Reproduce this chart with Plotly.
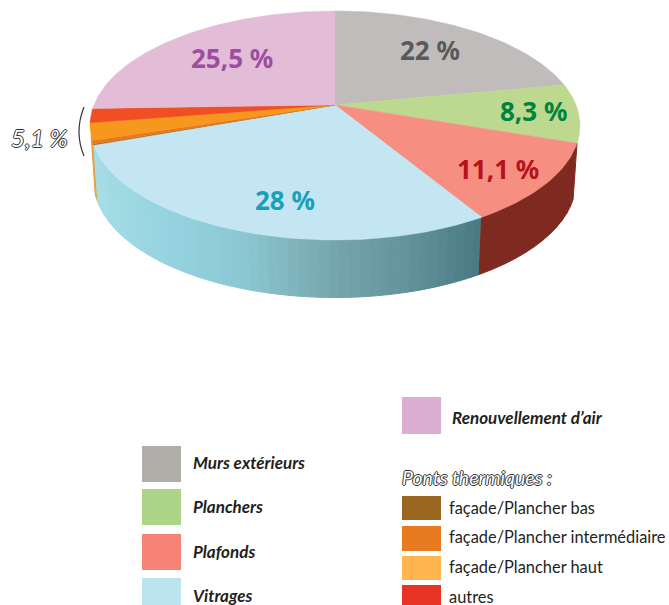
import math
import plotly.graph_objects as go

# --- data ---
categories = ["Murs extérieurs", "Planchers", "Plafonds", "Vitrages",
              "façade/Plancher bas", "façade/Plancher intermédiaire",
              "façade/Plancher haut", "autres", "Renouvellement d'air"]
values = [22.0, 8.3, 11.1, 28.0, 0.2, 0.5, 2.4, 2.0, 25.5]
top_colors = ["#bfbcbb", "#bcd98f", "#f68f82", "#c4e6f2", "#9a6a22", "#e8791f",
              "#f5981d", "#ef4f23", "#e3bcd8"]
pie_labels = ["22 %", "8,3 %", "11,1 %", "28 %", "25,5 %"]
pie_label_colors = ["#58595b", "#00843d", "#b5121b", "#1a9fb8", "#9b4f9e"]
legend_main = ["Murs extérieurs", "Planchers", "Plafonds", "Vitrages"]
legend_main_colors = ["#b1ada9", "#acd487", "#f78276", "#bce4ef"]
legend_pt = ["façade/Plancher bas", "façade/Plancher intermédiaire", "façade/Plancher haut", "autres"]
legend_pt_colors = ["#9a6722", "#e87a21", "#ffb651", "#e83425"]
group_total_label = "5,1 %"

# --- projection of the tilted disc ---
CX, CY, RX, RY = 335.0, 125.5, 245.0, 114.5
BX, BY, BRX, BRY = 335.0, 181.5, 241.0, 116.0
K = 0.18
total = sum(values)


def disc(frac):
    th = 2 * math.pi * frac
    x, y = math.sin(th), math.cos(th)
    w = 1 + K * y
    return x * math.sqrt(1 - K * K) / w, (y + K) / w


def top(frac):
    u, v = disc(frac)
    return CX + RX * u, CY - RY * v


def bottom(frac):
    u, v = disc(frac)
    return BX + BRX * u, BY - BRY * v


def hex_rgb(c):
    return tuple(int(c[i:i + 2], 16) for i in (1, 3, 5))


def ramp(x, stops):
    if x <= stops[0][0]:
        return stops[0][1]
    for (x0, c0), (x1, c1) in zip(stops, stops[1:]):
        if x <= x1:
            t = (x - x0) / (x1 - x0)
            a, b = hex_rgb(c0), hex_rgb(c1)
            return "rgb(%d,%d,%d)" % tuple(round(p + (q - p) * t) for p, q in zip(a, b))
    return stops[-1][1]


def poly(xs, ys, color):
    return go.Scatter(x=xs, y=ys, mode="lines", fill="toself", fillcolor=color,
                      line=dict(color=color, width=1), hoverinfo="skip", showlegend=False)


fig = go.Figure()

# cumulative bounds
bounds = [0.0]
for v in values:
    bounds.append(bounds[-1] + v / total)

# side wall: small orange edge, dark red wall, shaded blue wall
blue_stops = [(98, "#a6dce5"), (170, "#93d3df"), (240, "#8cc8d3"), (333, "#76a6ad"),
              (420, "#5f8f98"), (477, "#4a7a84")]


def wall(f0, f1, color_fn, n):
    for i in range(n):
        a = f0 + (f1 - f0) * i / n
        b = f0 + (f1 - f0) * (i + 1) / n
        ta, tb, ba, bb = top(a), top(b), bottom(a), bottom(b)
        col = color_fn((ta[0] + tb[0]) / 2)
        fig.add_trace(poly([ta[0], tb[0], bb[0], ba[0], ta[0]],
                           [ta[1], tb[1], bb[1], ba[1], ta[1]], col))


wall(bounds[4], bounds[4] + 0.012, lambda x: "#e8a040", 2)
wall(bounds[3], bounds[4], lambda x: ramp(x, blue_stops), 50)
wall(bounds[2], bounds[3], lambda x: "#7f2a20", 12)

# top face
for i, col in enumerate(top_colors):
    n = max(3, int(values[i] * 3))
    pts = [top(bounds[i] + (bounds[i + 1] - bounds[i]) * j / n) for j in range(n + 1)]
    apex = (CX, CY - RY * K)
    xs = [apex[0]] + [p[0] for p in pts] + [apex[0]]
    ys = [apex[1]] + [p[1] for p in pts] + [apex[1]]
    fig.add_trace(go.Scatter(x=xs, y=ys, mode="lines", fill="toself", fillcolor=col,
                             line=dict(color=col, width=0.5), hoverinfo="skip", showlegend=False))

ann = []


def text(x, y, s, size, color, family="Lato", bold=False, italic=False, anchor="left", shadow=None):
    f = dict(size=size, color=color, family=family,
             weight="bold" if bold else "normal", style="italic" if italic else "normal")
    if shadow:
        f["shadow"] = shadow
    ann.append(dict(x=x, y=y, xref="x", yref="y", text=s, showarrow=False, font=f,
                    xanchor=anchor, yanchor="middle", align=anchor))


# pie labels
label_pos = [(430, 50), (533, 111), (498, 169), (285, 200), (232, 58)]
for (x, y), s, c in zip(label_pos, pie_labels, pie_label_colors):
    text(x, y, s, 26, c, family="Noto Sans", bold=True, anchor="center")

OUTLINE = "1px 0 #333, -1px 0 #333, 0 1px #333, 0 -1px #333"
text(39, 137, group_total_label, 24, "#ffffff", italic=True, anchor="center", shadow=OUTLINE)

shapes = [dict(type="path", path="M 84 107 Q 74 132 84 156", xref="x", yref="y",
               line=dict(color="#333333", width=1.2))]


def swatch(x0, y0, x1, y1, c):
    shapes.append(dict(type="rect", x0=x0, x1=x1, y0=y0, y1=y1, xref="x", yref="y",
                       fillcolor=c, line=dict(width=0), layer="above"))


# legend, left column
for s, c, (y0, y1), ty in zip(legend_main, legend_main_colors,
                              [(446, 482), (489, 525), (534, 570), (578, 605)],
                              [462, 506, 551, 595]):
    swatch(142, y0, 181, y1, c)
    text(191, ty, s, 17, "#231f20", bold=True, italic=True)

# legend, right column
swatch(402, 397, 441, 434, "#dbaed2")
text(450, 417, categories[8].replace("'", "’"), 17, "#231f20", bold=True, italic=True)
text(400, 477, "Ponts thermiques :", 19.5, "#ffffff", italic=True, shadow=OUTLINE)
for s, c, (y0, y1), ty in zip(legend_pt, legend_pt_colors,
                              [(496, 520), (526, 551), (556, 580), (585, 605)],
                              [507, 536, 566, 596]):
    swatch(402, y0, 441, y1, c)
    text(447, ty, s, 16.4, "#231f20")

fig.update_layout(
    width=669, height=605, margin=dict(l=0, r=0, t=0, b=0),
    paper_bgcolor="white", plot_bgcolor="white", showlegend=False,
    xaxis=dict(range=[0, 669], visible=False, fixedrange=True),
    yaxis=dict(range=[605, 0], visible=False, fixedrange=True),
    annotations=ann, shapes=shapes,
)
fig.write_html("out.html", config={"displayModeBar": False},
               post_script="document.body.style.margin='0';")
